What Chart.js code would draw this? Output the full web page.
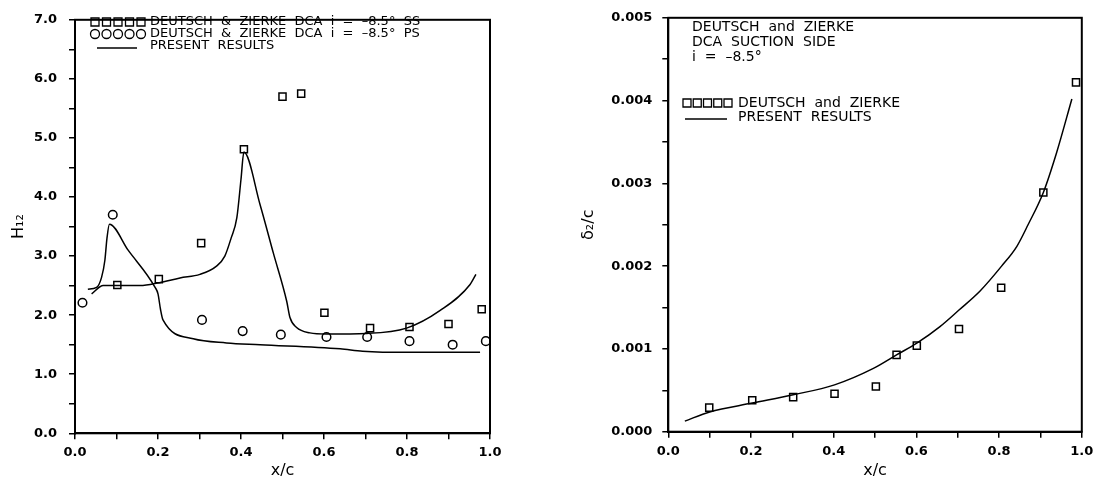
<!DOCTYPE html>
<html>
<head>
<meta charset="utf-8">
<script src="https://cdn.jsdelivr.net/npm/chart.js@4.4.1/dist/chart.umd.min.js"></script>
<style>
  html, body { margin: 0; padding: 0; background: #fff; }
  body { width: 1103px; height: 481px; position: relative; overflow: hidden; }
  .panel { position: absolute; top: 0; }
  #leftPanel { left: 0; }
  #rightPanel { left: 545px; }
</style>
</head>
<body>
<div class="panel" id="leftPanel"><canvas id="h12Chart" width="520" height="481"></canvas></div>
<div class="panel" id="rightPanel"><canvas id="thetaChart" width="558" height="481"></canvas></div>
<script>
// ---- left panel: shape factor H12 ----
const ssX = [0.102, 0.202, 0.304, 0.407, 0.500, 0.545, 0.601, 0.711, 0.806, 0.900, 0.980];
const ssH = [2.51, 2.61, 3.22, 4.81, 5.70, 5.75, 2.04, 1.78, 1.80, 1.85, 2.10];
const psX = [0.018, 0.091, 0.306, 0.404, 0.496, 0.606, 0.704, 0.806, 0.910, 0.990];
const psH = [2.21, 3.70, 1.92, 1.73, 1.67, 1.63, 1.63, 1.56, 1.50, 1.56];

// present results, suction side
const ssCurveX = [0.040, 0.068, 0.100, 0.157, 0.203, 0.253, 0.301, 0.341, 0.361, 0.376, 0.390, 0.400, 0.407,
                  0.446, 0.478, 0.510, 0.518, 0.534, 0.566, 0.606, 0.703, 0.799, 0.880, 0.952, 0.966];
const ssCurveH = [2.36, 2.50, 2.50, 2.50, 2.55, 2.63, 2.69, 2.83, 3.00, 3.30, 3.65, 4.30, 4.76,
                  3.87, 3.05, 2.24, 1.96, 1.79, 1.70, 1.68, 1.69, 1.78, 2.08, 2.52, 2.69];
// present results, pressure side
const psCurveX = [0.031, 0.052, 0.064, 0.072, 0.077, 0.083, 0.128, 0.193, 0.200, 0.206, 0.212,
                  0.285, 0.365, 0.446, 0.639, 0.693, 0.800, 0.952, 0.976];
const psCurveH = [2.44, 2.47, 2.64, 2.93, 3.30, 3.54, 3.10, 2.47, 2.36, 2.10, 1.92,
                  1.60, 1.53, 1.50, 1.43, 1.39, 1.37, 1.37, 1.37];

// ---- right panel: momentum thickness ----
const dzX = [0.099, 0.203, 0.302, 0.402, 0.502, 0.552, 0.601, 0.703, 0.805, 0.907, 0.986];
const dzTheta = [0.000291, 0.000379, 0.000418, 0.000459, 0.000546, 0.000928, 0.00104, 0.00124, 0.00174, 0.00289, 0.00422];
const thetaCurveX = [0.040, 0.100, 0.203, 0.302, 0.402, 0.496, 0.552, 0.601, 0.657, 0.703, 0.754,
                     0.806, 0.843, 0.870, 0.907, 0.939, 0.976];
const thetaCurveY = [0.000128, 0.000239, 0.000346, 0.000446, 0.000566, 0.000765, 0.000928, 0.00107, 0.00127, 0.00147, 0.00170,
                     0.00200, 0.00224, 0.00250, 0.00289, 0.00337, 0.00402];

const FONT = '"DejaVu Sans", "Liberation Sans", sans-serif';

function toPoints(xs, ys) {
    return xs.map((x, i) => ({ x: x, y: ys[i] }));
}

// frame + in-plot legend text
const insetPlugin = {
    id: 'inset',
    afterDraw(chart, args, opts) {
        const ctx = chart.ctx;
        const a = chart.chartArea;
        ctx.save();
        ctx.strokeStyle = '#000';
        ctx.lineWidth = 2;
        ctx.strokeRect(a.left, a.top, a.right - a.left, a.bottom - a.top);

        ctx.fillStyle = '#000';
        ctx.font = opts.font;
        ctx.textBaseline = 'middle';
        ctx.textAlign = 'left';
        ctx.lineWidth = 1.3;
        (opts.rows || []).forEach(r => {
            if (r.symbol === 'rect' || r.symbol === 'circle') {
                const n = 5;
                const step = (r.x1 - r.x0) / (n - 1);
                for (let i = 0; i < n; i++) {
                    const cx = r.x0 + i * step;
                    ctx.beginPath();
                    if (r.symbol === 'rect') {
                        ctx.rect(cx - r.size / 2, r.y - r.size / 2, r.size, r.size);
                    } else {
                        ctx.arc(cx, r.y, r.size / 2, 0, Math.PI * 2);
                    }
                    ctx.stroke();
                }
            } else if (r.symbol === 'line') {
                ctx.beginPath();
                ctx.moveTo(r.x0, r.y + 2);
                ctx.lineTo(r.x1, r.y + 2);
                ctx.stroke();
            }
            ctx.fillText(r.text, r.textX, r.y);
        });
        ctx.restore();
    }
};

function axisX(titlePad) {
    return {
        type: 'linear',
        min: 0,
        max: 1,
        afterFit: s => { s.height = titlePad.height; },
        border: { display: true, color: '#000', width: 2 },
        grid: { drawOnChartArea: false, drawTicks: true, tickLength: 6, color: '#000', lineWidth: 1.5 },
        ticks: {
            stepSize: 0.1,
            autoSkip: false,
            maxRotation: 0,
            padding: 6,
            color: '#000',
            font: { family: FONT, size: 13, weight: 'bold' },
            callback: (v, i) => (i % 2 === 0 ? v.toFixed(1) : '')
        },
        title: {
            display: true,
            text: 'x/c',
            color: '#000',
            font: { family: FONT, size: 16 },
            padding: { top: 0, bottom: 1 }
        }
    };
}

// left chart
new Chart(document.getElementById('h12Chart'), {
    type: 'scatter',
    data: {
        datasets: [
            {
                label: 'DEUTSCH & ZIERKE DCA i = -8.5° SS',
                data: toPoints(ssX, ssH),
                pointStyle: 'rect',
                pointRadius: 5,
                borderColor: '#000',
                backgroundColor: 'rgba(0,0,0,0)',
                borderWidth: 1.5
            },
            {
                label: 'DEUTSCH & ZIERKE DCA i = -8.5° PS',
                data: toPoints(psX, psH),
                pointStyle: 'circle',
                pointRadius: 4.3,
                borderColor: '#000',
                backgroundColor: 'rgba(0,0,0,0)',
                borderWidth: 1.5
            },
            {
                label: 'PRESENT RESULTS',
                data: toPoints(ssCurveX, ssCurveH),
                showLine: true,
                pointRadius: 0,
                borderColor: '#000',
                borderWidth: 1.5,
                cubicInterpolationMode: 'monotone'
            },
            {
                label: 'PRESENT RESULTS PS',
                data: toPoints(psCurveX, psCurveH),
                showLine: true,
                pointRadius: 0,
                borderColor: '#000',
                borderWidth: 1.5,
                cubicInterpolationMode: 'monotone'
            }
        ]
    },
    options: {
        responsive: false,
        animation: false,
        layout: { padding: { left: 5, top: 15.5, right: 30, bottom: 0 } },
        plugins: {
            legend: { display: false },
            tooltip: { enabled: false },
            inset: {
                font: '13px ' + FONT,
                rows: [
                    { y: 22, symbol: 'rect', x0: 95, x1: 141, size: 8, textX: 150, text: 'DEUTSCH  &  ZIERKE  DCA  i  =  –8.5°  SS' },
                    { y: 34, symbol: 'circle', x0: 95, x1: 141, size: 9, textX: 150, text: 'DEUTSCH  &  ZIERKE  DCA  i  =  –8.5°  PS' },
                    { y: 46, symbol: 'line', x0: 97, x1: 137, textX: 150, text: 'PRESENT  RESULTS' }
                ]
            }
        },
        scales: {
            x: axisX({ height: 47.7 }),
            y: {
                type: 'linear',
                min: 0,
                max: 7,
                afterFit: s => { s.width = 70; },
                border: { display: true, color: '#000', width: 2 },
                grid: { drawOnChartArea: false, drawTicks: true, tickLength: 6, color: '#000', lineWidth: 1.5 },
                ticks: {
                    stepSize: 0.5,
                    autoSkip: false,
                    maxTicksLimit: 30,
                    padding: 12,
                    color: '#000',
                    font: { family: FONT, size: 13, weight: 'bold' },
                    callback: (v, i) => (i % 2 === 0 ? v.toFixed(1) : '')
                },
                title: {
                    display: true,
                    text: 'H₁₂',
                    color: '#000',
                    font: { family: FONT, size: 16 },
                    padding: { top: 4, bottom: 0 }
                }
            }
        }
    },
    plugins: [insetPlugin]
});

// right chart
new Chart(document.getElementById('thetaChart'), {
    type: 'scatter',
    data: {
        datasets: [
            {
                label: 'DEUTSCH and ZIERKE',
                data: toPoints(dzX, dzTheta),
                pointStyle: 'rect',
                pointRadius: 5,
                borderColor: '#000',
                backgroundColor: 'rgba(0,0,0,0)',
                borderWidth: 1.5
            },
            {
                label: 'PRESENT RESULTS',
                data: toPoints(thetaCurveX, thetaCurveY),
                showLine: true,
                pointRadius: 0,
                borderColor: '#000',
                borderWidth: 1.5,
                cubicInterpolationMode: 'monotone'
            }
        ]
    },
    options: {
        responsive: false,
        animation: false,
        layout: { padding: { left: 30, top: 13, right: 21.2, bottom: 0 } },
        plugins: {
            legend: { display: false },
            tooltip: { enabled: false },
            inset: {
                font: '14px ' + FONT,
                rows: [
                    { y: 27, textX: 147, text: 'DEUTSCH  and  ZIERKE' },
                    { y: 42, textX: 147, text: 'DCA  SUCTION  SIDE' },
                    { y: 57, textX: 147, text: 'i  =  –8.5°' },
                    { y: 103, symbol: 'rect', x0: 142, x1: 183, size: 8, textX: 193, text: 'DEUTSCH  and  ZIERKE' },
                    { y: 117, symbol: 'line', x0: 140, x1: 182, textX: 193, text: 'PRESENT  RESULTS' }
                ]
            }
        },
        scales: {
            x: axisX({ height: 49.3 }),
            y: {
                type: 'linear',
                min: 0,
                max: 0.005,
                afterFit: s => { s.width = 93.3; },
                border: { display: true, color: '#000', width: 2 },
                grid: { drawOnChartArea: false, drawTicks: true, tickLength: 6, color: '#000', lineWidth: 1.5 },
                ticks: {
                    stepSize: 0.0005,
                    autoSkip: false,
                    maxTicksLimit: 30,
                    padding: 10,
                    color: '#000',
                    font: { family: FONT, size: 13, weight: 'bold' },
                    callback: (v, i) => (i % 2 === 0 ? v.toFixed(3) : '')
                },
                title: {
                    display: true,
                    text: 'δ₂/c',
                    color: '#000',
                    font: { family: FONT, size: 16 },
                    padding: { top: 4, bottom: 0 }
                }
            }
        }
    },
    plugins: [insetPlugin]
});
</script>
</body>
</html>
